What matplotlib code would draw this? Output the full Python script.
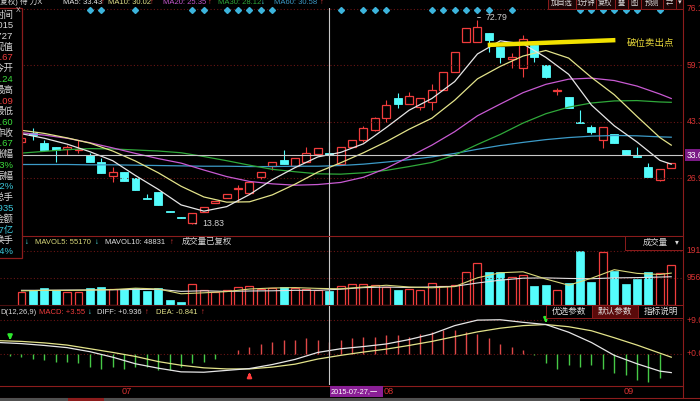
import numpy as np
import matplotlib
matplotlib.use('Agg')
import matplotlib.pyplot as plt
from matplotlib.patches import Rectangle
from matplotlib.lines import Line2D
from matplotlib.transforms import blended_transform_factory as blend

plt.rcParams['font.family'] = ['Liberation Sans', 'Noto Sans CJK SC', 'DejaVu Sans']

# ---- daily candles (index 0..57, 2015-06/07/08/09) ----
opens = [37.51, 40.12, 37.22, 36.06, 35.48, 35.19, 33.75, 31.72, 27.67, 28.83,
         27.09, 21.30, 23.04, 17.53, 15.80, 14.12, 17.25, 19.85, 21.30, 23.90,
         22.75, 27.38, 30.56, 32.30, 30.56, 31.72, 34.04, 34.33, 31.14, 36.06,
         38.09, 40.99, 44.46, 50.25, 48.51, 47.64, 49.09, 52.56, 57.78, 66.46,
         66.46, 69.07, 65.01, 61.54, 58.93, 65.59, 59.80, 52.27, 50.54, 43.30,
         41.85, 38.09, 39.83, 35.19, 33.46, 30.27, 26.51, 29.98]
highs = [39.54, 41.56, 38.09, 36.06, 36.64, 38.09, 34.33, 32.88, 30.27, 28.83,
         27.09, 22.46, 23.04, 17.53, 15.80, 16.96, 18.69, 20.43, 22.46, 25.06,
         25.93, 28.83, 31.72, 35.19, 32.88, 36.06, 35.77, 37.51, 36.06, 38.09,
         42.14, 44.80, 49.67, 51.70, 51.99, 50.25, 54.30, 57.78, 63.57, 70.51,
         72.79, 69.07, 65.01, 63.28, 68.49, 65.59, 59.80, 53.14, 50.54, 46.77,
         42.43, 41.85, 39.83, 35.19, 36.06, 31.43, 29.69, 31.43]
lows = [36.64, 38.09, 35.19, 31.72, 33.75, 34.33, 31.72, 28.54, 25.93, 26.22,
        23.61, 21.01, 19.27, 17.25, 15.51, 13.83, 17.25, 19.85, 21.30, 20.14,
        22.75, 26.80, 29.40, 31.14, 30.56, 31.72, 34.04, 33.46, 31.14, 36.06,
        37.51, 40.70, 43.30, 47.35, 48.51, 46.77, 46.77, 52.56, 57.78, 66.46,
        66.46, 63.57, 60.38, 58.93, 56.33, 60.67, 56.04, 51.12, 47.35, 43.01,
        39.83, 35.77, 37.22, 33.75, 33.17, 27.38, 26.22, 29.98]
closes = [38.67, 39.54, 35.19, 35.19, 36.06, 35.48, 31.72, 28.54, 28.83, 26.22,
          23.61, 21.01, 19.27, 17.25, 15.51, 16.96, 18.69, 20.43, 22.46, 24.19,
          25.93, 28.83, 31.72, 31.14, 32.88, 34.33, 35.77, 33.67, 36.06, 38.09,
          41.56, 44.46, 48.22, 48.51, 50.83, 50.25, 52.56, 57.78, 63.57, 70.51,
          70.80, 67.04, 62.12, 62.12, 67.33, 62.12, 56.33, 52.56, 47.35, 43.01,
          40.41, 41.85, 37.22, 33.75, 33.17, 27.38, 29.69, 31.43]
volumes = [46000, 53000, 60000, 53000, 46000, 46000, 60000, 64000, 57000, 57000,
           60000, 50000, 60000, 18000, 11000, 74000, 53000, 46000, 53000, 64000,
           67000, 57000, 60000, 64000, 60000, 57000, 53000, 50000, 67000, 74000,
           74000, 71000, 64000, 53000, 57000, 53000, 78000, 67000, 71000, 117000,
           149000, 117000, 117000, 99000, 106000, 67000, 71000, 53000, 78000, 191000,
           81000, 188000, 120000, 74000, 92000, 117000, 113000, 142000]

# moving averages read at every second bar
ma_idx = list(range(0, 58, 2)) + [57]
ma5 = [39.9, 38.6, 36.9, 34.7, 32.1, 27.8, 23.8, 19.3, 17.5, 18.8, 22.3, 26.6, 30.1, 33.2, 34.5,
       37.0, 41.7, 46.7, 50.1, 55.0, 63.0, 66.8, 65.9, 62.0, 57.1, 48.2, 42.2, 37.5, 32.2, 31.1]
ma10 = [40.9, 40.0, 38.7, 37.2, 34.9, 32.0, 28.6, 24.7, 21.6, 20.1, 20.2, 22.2, 25.3, 28.8, 31.5,
        34.4, 37.6, 41.2, 44.4, 49.6, 55.8, 59.4, 62.4, 64.0, 61.8, 56.2, 51.2, 44.9, 38.8, 36.6]
ma20 = [40.2, 39.5, 38.6, 37.3, 35.8, 34.2, 32.7, 31.4, 29.4, 27.5, 26.1, 25.4, 25.0, 25.2, 25.8,
        27.3, 29.9, 33.2, 36.6, 40.5, 45.1, 48.5, 51.8, 54.2, 55.7, 56.0, 55.3, 53.7, 51.4, 50.1]
ma30 = [34.3, 34.8, 35.3, 35.6, 35.5, 35.2, 34.9, 34.4, 33.3, 32.1, 30.8, 29.6, 28.9, 28.3, 28.2,
        28.6, 29.3, 30.4, 31.6, 33.7, 36.8, 39.7, 43.0, 45.7, 47.6, 48.8, 49.4, 49.5, 49.1, 49.0]
ma60 = [31.0, 31.0, 31.0, 30.9, 30.9, 30.8, 30.7, 30.6, 30.5, 30.5, 30.4, 30.4, 30.5, 30.5, 30.7,
        31.1, 31.7, 32.4, 33.2, 34.2, 35.4, 36.5, 37.4, 38.2, 38.8, 39.2, 39.4, 39.3, 39.0, 38.9]
mavol5 = [50000, 52000, 51600, 53000, 54600, 59600, 56800, 39800, 43200, 47400, 56600, 60200, 61600,
          58800, 57400, 63600, 70000, 63800, 61000, 65200, 96400, 114200, 117600, 92000, 70000,
          94800, 125000, 112000, 108000, 113000]
mavol10 = [52000, 52000, 53000, 53000, 54000, 55000, 55300, 48300, 50400, 48200, 49600, 50300, 52000,
           52000, 56000, 61600, 63400, 62000, 64100, 66200, 78000, 87900, 95000, 96000, 94000,
           93000, 96000, 97000, 99000, 100000]

# MACD(12,26,9)
macd_idx = [-2] + ma_idx
diff = [3.0, 2.7, 2.2, 1.6, 0.5, -1.0, -2.8, -4.0, -5.0, -5.1, -4.6, -4.1, -3.0, -1.6, 0.3, 1.3,
        1.9, 2.6, 3.8, 5.3, 7.6, 9.1, 9.2, 8.5, 7.9, 5.8, 3.0, -0.5, -2.8, -4.8, -5.2]
dea = [3.5, 3.3, 2.9, 2.3, 1.3, 0.3, -0.8, -2.2, -3.2, -3.9, -4.2, -4.2, -3.7, -2.9, -1.5, -0.5,
       0.4, 1.2, 2.2, 3.3, 4.6, 5.9, 6.9, 7.6, 7.9, 7.3, 6.2, 4.3, 2.3, 0.1, -1.0]
hist = [-0.6, -0.9, -1.4, -1.8, -2.3, -2.3, -2.7, -3.6, -4.1, -3.6, -4.1, -3.6, -3.6, -4.5, -4.5,
        -3.6, -2.7, -2.3, -1.4, -0.2, 0.9, 1.8, 2.7, 3.2, 3.6, 3.6, 4.1, 3.55, 3.2, 3.6, 4.1, 4.5,
        4.5, 5.0, 5.0, 4.5, 5.4, 5.9, 6.4, 6.4, 5.9, 5.4, 4.1, 2.7, 1.8, 0.9, -0.3, -2.7, -4.1,
        -3.2, -3.6, -3.2, -4.1, -5.4, -5.9, -7.3, -7.7, -6.8]
sell_pts = [(-1, 2.9), (46, 7.6)]
buy_pts = [(20, -4.4)]

signal_days = [6, 7, 10, 15, 16, 18, 19, 20, 21, 22, 28, 30, 31, 32, 36, 37, 38, 39, 40, 41,
               43, 49, 50, 51, 52, 53, 54, 56]
price_ticks = [76.11, 59.73, 43.35, 26.97]
vol_ticks = [191250, 95625]
macd_ticks = [9.0, 0.0]
month_pos = [9, 32, 53]
month_labels = ['07', '08', '09']
cursor_day = 27
cursor_price = 33.67
break_x = [40.9, 52.1]
break_y = [65.6, 67.0]
break_label = (53.1, 65.9)

RED = '#f03c3c'
CYAN = '#54fcfc'
FRAME = '#8c1c1c'
GRID = '#6a1515'
TXT_RED = '#d83232'
HS = 5.5  # header font size
W, H = 700, 401

fig = plt.figure(figsize=(7.0, 4.01), dpi=100, facecolor='black')


def frac(x0, y0, x1, y1):
    return [x0 / W, 1 - y1 / H, (x1 - x0) / W, (y1 - y0) / H]


def make_ax(y0, y1, ylim):
    ax = fig.add_axes(frac(0, y0, 683, y1))
    ax.set_xlim(-1.886, 58.03)
    ax.set_ylim(*ylim)
    ax.axis('off')
    return ax


def ftext(x, y, s, color='#d8d8d8', size=HS, ha='left', **kw):
    fig.text(x / W, 1 - y / H, s, color=color, fontsize=size, ha=ha, va='center', zorder=5, **kw)


def fbox(x0, y0, x1, y1, fc='black', ec=FRAME, lw=0.8, z=2):
    fig.add_artist(Rectangle((x0 / W, 1 - y1 / H), (x1 - x0) / W, (y1 - y0) / H,
                             transform=fig.transFigure, fc=fc, ec=ec, lw=lw, zorder=z))


def fline(x0, y0, x1, y1, color=FRAME, lw=0.8):
    fig.add_artist(Line2D([x0 / W, x1 / W], [1 - y0 / H, 1 - y1 / H], transform=fig.transFigure,
                          color=color, lw=lw, zorder=3))


main = make_ax(8, 236, (10.30, 76.30))
vol = make_ax(236, 305, (0, 244329))
macd = make_ax(305, 385, (-8.58, 13.22))

# ---- price panel ----
for p in price_ticks:
    main.axhline(p, color=GRID, lw=0.8, ls=(0, (1, 2)))
for i in range(len(opens)):
    o, h, l, c = opens[i], highs[i], lows[i], closes[i]
    lo_b, hi_b = min(o, c), max(o, c)
    hgt = max(hi_b - lo_b, 0.3)
    if c >= o:
        main.vlines(i, l, lo_b, color=RED, lw=0.8)
        main.vlines(i, lo_b + hgt, h, color=RED, lw=0.8)
        main.add_patch(Rectangle((i - 0.35, lo_b), 0.7, hgt, fill=False, ec=RED, lw=0.9))
    else:
        main.vlines(i, l, h, color=CYAN, lw=0.8)
        main.add_patch(Rectangle((i - 0.35, lo_b), 0.7, hgt, fc=CYAN, ec=CYAN, lw=0.6))

main.plot(ma_idx, ma60, color='#3c9bc8', lw=0.9)
main.plot(ma_idx, ma30, color='#2fa83a', lw=0.9)
main.plot(ma_idx, ma20, color='#c85ad2', lw=0.9)
main.plot(ma_idx, ma10, color='#e3e38a', lw=0.9)
main.plot(ma_idx, ma5, color='#e6e6e6', lw=0.9)

main.axhline(cursor_price, color='#c8c8c8', lw=0.8)
tr = blend(main.transData, main.transAxes)
main.plot(signal_days, [0.991] * len(signal_days), transform=tr, ls='none', marker='D',
          ms=3, color='#3cb4dc', clip_on=False)

hi_i = int(np.argmax(highs))
lo_i = int(np.argmin(lows))
main.annotate(f'{highs[hi_i]:.2f}', xy=(hi_i, highs[hi_i]), xytext=(6, 2), textcoords='offset points',
              color='#d0d0d0', fontsize=6.3, va='center',
              arrowprops=dict(arrowstyle='-', color='#d0d0d0', lw=0.6,
                              connectionstyle='angle,angleA=0,angleB=90,rad=0'))
main.annotate(f'{lows[lo_i]:.2f}', xy=(lo_i, lows[lo_i]), xytext=(7, 0), textcoords='offset points',
              color='#d0d0d0', fontsize=6.3, va='center',
              arrowprops=dict(arrowstyle='-', color='#d0d0d0', lw=0.6))

main.plot(break_x, break_y, color='#f2e200', lw=3.2, solid_capstyle='butt')
main.text(break_label[0], break_label[1], '破位卖出点', color='#e8d83a', fontsize=6.8,
          va='center', family=['Noto Sans CJK SC'])

tr_r = blend(main.transAxes, main.transData)
for p in price_ticks:
    main.text(1.005, p, f'{p:.2f}', transform=tr_r, color=TXT_RED, fontsize=6.2, va='center', clip_on=False)
main.text(1.005, cursor_price, f'{cursor_price:.2f}', transform=tr_r, color='white', fontsize=6.2,
          va='center', clip_on=False, bbox=dict(boxstyle='square,pad=0.15', fc='#7b1a86', ec='none'))

# ---- volume panel ----
for v in vol_ticks:
    vol.axhline(v, color=GRID, lw=0.8, ls=(0, (1, 2)))
for i in range(len(volumes)):
    if closes[i] >= opens[i]:
        vol.add_patch(Rectangle((i - 0.35, 0), 0.7, volumes[i], fill=False, ec=RED, lw=0.9))
    else:
        vol.add_patch(Rectangle((i - 0.35, 0), 0.7, volumes[i], fc=CYAN, ec=CYAN, lw=0.5))
vol.plot(ma_idx, mavol10, color='#e0e0e0', lw=0.8)
vol.plot(ma_idx, mavol5, color='#d8d87a', lw=0.8)
tr_v = blend(vol.transAxes, vol.transData)
for v in vol_ticks:
    vol.text(1.005, v, str(v), transform=tr_v, color=TXT_RED, fontsize=6.2, va='center', clip_on=False)

# ---- MACD panel ----
for t in macd_ticks:
    macd.axhline(t, color=GRID, lw=0.8, ls=(0, (1, 2)))
hx = list(range(-1, 58))
for x, hv in zip(hx, hist):
    macd.vlines(x, 0, hv, color='#e04848' if hv > 0 else '#46c846', lw=1.0)
macd.plot(macd_idx, dea, color='#e3e38a', lw=0.9)
macd.plot(macd_idx, diff, color='#e6e6e6', lw=0.9)
for x, y in sell_pts:
    macd.annotate('', xy=(x, y), xytext=(0, 7), textcoords='offset points',
                  arrowprops=dict(arrowstyle='-|>', color='#2ee82e', lw=1.6, mutation_scale=6))
for x, y in buy_pts:
    macd.annotate('', xy=(x, y), xytext=(0, -7), textcoords='offset points',
                  arrowprops=dict(arrowstyle='-|>', color='#ff3c3c', lw=1.6, mutation_scale=6))
tr_m = blend(macd.transAxes, macd.transData)
for t in macd_ticks:
    macd.text(1.005, t, f'+{t:.2f}', transform=tr_m, color=TXT_RED, fontsize=6.2, va='center', clip_on=False)

for ax in (main, vol, macd):
    ax.axvline(cursor_day, color='#c8c8c8', lw=0.8)

# ---- frames / separators ----
fline(0, 236, 683, 236)
fline(0, 305, 683, 305, color='#4a1010')
fline(0, 385.5, 683, 385.5)
fline(0, 397.5, 700, 397.5)
fline(683, 0, 683, 398)

# date axis
tr_d = blend(macd.transData, fig.transFigure)
for pos, lab in zip(month_pos, month_labels):
    macd.text(pos - 0.2, 1 - 391 / H, lab, transform=tr_d, color=TXT_RED, fontsize=6.6,
              va='center', clip_on=False)
fbox(330, 386, 383, 397, fc='#8a1f96', ec='none', z=4)
ftext(331, 391.5, '2015-07-27,一', color='white', size=5.3)

# bottom tabs
fbox(0, 398, 580, 401, fc='#505050', ec='none', z=4)
fbox(68, 398, 104, 401, fc='#8c1c1c', ec='none', z=4)

# top header line
ftext(0, 2, '复权) 待 力X', color='#d8d8d8')
ftext(63, 2, 'MA5: 33.43', color='#e6e6e6')
ftext(101, 2, '↑', color=RED)
ftext(108, 2, 'MA10: 30.02', color='#e3e38a')
ftext(150, 2, '↑', color=RED)
ftext(163, 2, 'MA20: 25.35', color='#c85ad2')
ftext(208, 2, '↑', color=RED)
ftext(218, 2, 'MA30: 28.12', color='#2fa83a')
ftext(261, 2, '↓', color=CYAN)
ftext(274, 2, 'MA60: 30.58', color='#3c9bc8')
ftext(320, 2, '↑', color=RED)

# top right buttons
btn_x = [548, 576, 596, 615, 628, 641, 663, 676, 683]
btn_txt = ['加自选', '1分钟', '复权', '叠', '图', '预测', '⇄', '▾']
for k, t in enumerate(btn_txt):
    fbox(btn_x[k], -2, btn_x[k + 1], 9, fc='#1a0505', ec=FRAME, lw=0.7, z=4)
    ftext((btn_x[k] + btn_x[k + 1]) / 2, 3, t, color='#e0e0e0', size=5.2, ha='center')

# volume header
ftext(25, 242, '↓', color=CYAN)
ftext(35, 242, 'MAVOL5: 55170', color='#d8d87a')
ftext(95, 242, '↓', color=CYAN)
ftext(105, 242, 'MAVOL10: 48831', color='#e0e0e0')
ftext(170, 242, '↑', color=RED)
ftext(182, 242, '成交量已复权', color='#d8d8d8', size=6)
fbox(625, 236, 683, 250, fc='black', ec=FRAME, lw=0.7, z=4)
ftext(643, 243, '成交量', color='#d8d8d8', size=6)
ftext(675, 243, '▾', color='#d8d8d8', size=5.5)

# MACD header
ftext(0, 312, 'D(12,26,9)', color='#d8d8d8')
ftext(39, 312, 'MACD: +3.55', color=RED)
ftext(88, 312, '↓', color=CYAN)
ftext(97, 312, 'DIFF: +0.936', color='#e0e0e0')
ftext(145, 312, '↑', color=RED)
ftext(156, 312, 'DEA: -0.841', color='#e3e38a')
ftext(201, 312, '↑', color=RED)
btn2_x = [546, 592, 638, 683]
btn2_txt = ['优选参数', '默认参数', '指标说明']
for k, t in enumerate(btn2_txt):
    fbox(btn2_x[k], 305, btn2_x[k + 1], 318, fc='#5a0a0a' if k == 1 else 'black', ec=FRAME, lw=0.7, z=4)
    ftext((btn2_x[k] + btn2_x[k + 1]) / 2, 311.5, t, color='#e0e0e0', size=6.2, ha='center')

# left info panel
fbox(-2, 8, 22, 258, fc='black', ec=FRAME, lw=0.9, z=4)
info = [('时间', '#d8d8d8'), ('2015', '#d8d8d8'), ('0727', '#d8d8d8'), ('现值', '#d8d8d8'),
        ('33.67', RED), ('今开', '#d8d8d8'), ('34.24', '#3cdc3c'), ('最高', '#d8d8d8'),
        ('37.09', RED), ('最低', '#d8d8d8'), ('33.60', '#3cdc3c'), ('昨收', '#d8d8d8'),
        ('35.67', '#3cdc3c'), ('涨幅', '#d8d8d8'), ('-6.13%', '#3cdc3c'), ('振幅', '#d8d8d8'),
        ('10.32%', '#3cc8dc'), ('总手', '#d8d8d8'), ('61935', '#3cc8dc'), ('金额', '#d8d8d8'),
        ('21.07亿', '#3cc8dc'), ('换手', '#d8d8d8'), ('3.94%', '#3cc8dc')]
for k, (s, col) in enumerate(info):
    ftext(13.5, 15 + 10.75 * k, s, color=col, size=6.8, ha='right')
ftext(18, 11, 'X', color='#c8c8c8', size=5, ha='center')

fig.savefig('out.png', dpi=100, facecolor='black')
